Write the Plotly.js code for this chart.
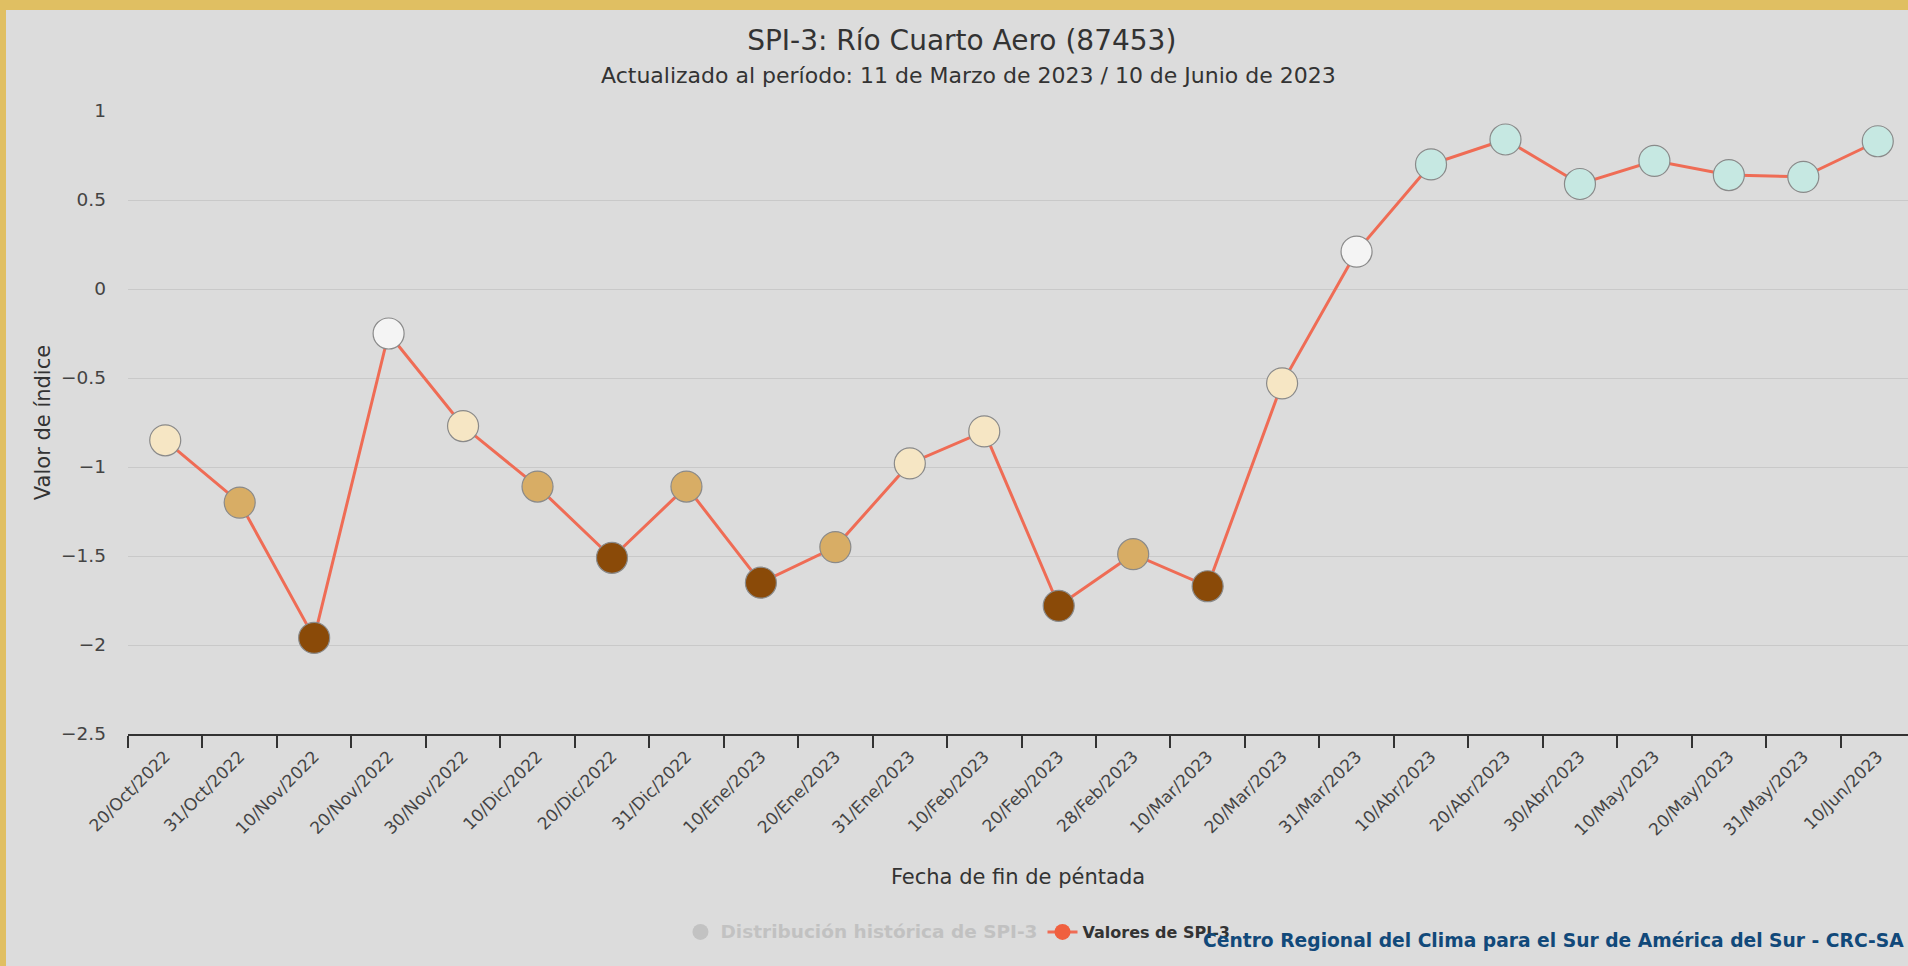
<!DOCTYPE html>
<html>
<head>
<meta charset="utf-8">
<script src="https://cdn.plot.ly/plotly-3.0.1.min.js"></script>
<style>
  html, body { margin: 0; padding: 0; width: 1908px; height: 966px; overflow: hidden; background: #e0bf62; }
  #chart { position: absolute; left: 6px; top: 10px; width: 1902px; height: 956px; }
</style>
</head>
<body>
<div id="chart"></div>
<script>
// ---- data ----
const fechas = [
  "20/Oct/2022", "31/Oct/2022", "10/Nov/2022", "20/Nov/2022", "30/Nov/2022",
  "10/Dic/2022", "20/Dic/2022", "31/Dic/2022", "10/Ene/2023", "20/Ene/2023",
  "31/Ene/2023", "10/Feb/2023", "20/Feb/2023", "28/Feb/2023", "10/Mar/2023",
  "20/Mar/2023", "31/Mar/2023", "10/Abr/2023", "20/Abr/2023", "30/Abr/2023",
  "10/May/2023", "20/May/2023", "31/May/2023", "10/Jun/2023"
];
const spi3 = [
  -0.85, -1.20, -1.96, -0.25, -0.77,
  -1.11, -1.51, -1.11, -1.65, -1.45,
  -0.98, -0.80, -1.78, -1.49, -1.67,
  -0.53, 0.21, 0.70, 0.84, 0.59,
  0.72, 0.64, 0.63, 0.83
];
const yTicks = [1, 0.5, 0, -0.5, -1, -1.5, -2, -2.5];

const tituloTexto = "SPI-3: Río Cuarto Aero (87453)";
const subtituloTexto = "Actualizado al período: 11 de Marzo de 2023 / 10 de Junio de 2023";
const serieHistorica = "Distribución histórica de SPI-3";
const serieValores = "Valores de SPI-3";
const creditoTexto = "Centro Regional del Clima para el Sur de América del Sur - CRC-SA";

// SPI class colours
function colorSPI(v) {
  if (v >= 0.5) return "#c6e8e2";
  if (v >= -0.5) return "#f4f4f4";
  if (v >= -1.0) return "#f6e6c4";
  if (v >= -1.5) return "#d8ad65";
  return "#8a4a08";
}

const FONT = "DejaVu Sans, Verdana, sans-serif";

const traces = [
  {
    type: "scatter",
    mode: "markers",
    name: '<b><span style="color:#a8a8a8;font-size:18.5px">' + serieHistorica + '</span></b>',
    x: [fechas[0]],
    y: [null],
    visible: "legendonly",
    marker: { color: "#a8a8a8", size: 17, symbol: "circle" },
    hoverinfo: "skip"
  },
  {
    type: "scatter",
    mode: "lines+markers",
    name: "<b>" + serieValores + "</b>",
    x: fechas,
    y: spi3,
    line: { color: "#ef6c55", width: 3 },
    marker: { color: "#f0603f", size: 16, symbol: "circle" },
    hoverinfo: "skip"
  },
  {
    type: "scatter",
    mode: "markers",
    name: serieValores,
    showlegend: false,
    x: fechas,
    y: spi3,
    marker: {
      color: spi3.map(colorSPI),
      size: 31,
      line: { color: "#8a8a8a", width: 1.2 }
    },
    hoverinfo: "x+y"
  }
];

const layout = {
  width: 1902,
  height: 956,
  margin: { l: 122, r: 0, t: 101, b: 232, pad: 0 },
  paper_bgcolor: "#dcdcdc",
  plot_bgcolor: "#dcdcdc",
  font: { family: FONT, color: "#333333" },
  showlegend: true,
  title: {
    text: tituloTexto,
    font: { family: FONT, size: 28, color: "#333333" },
    x: 0.5025, xref: "container", xanchor: "center",
    y: 1 - 30 / 956, yref: "container", yanchor: "middle"
  },
  xaxis: {
    type: "category",
    range: [-0.5, 23.406],
    tickson: "boundaries",
    ticks: "outside",
    ticklen: 12,
    tickwidth: 1.5,
    tickcolor: "#333333",
    showline: true,
    linecolor: "#333333",
    linewidth: 2,
    showgrid: false,
    zeroline: false,
    tickangle: -45,
    ticklabelstandoff: 4,
    tickfont: { family: FONT, size: 17, color: "#444444" },
    title: {
      text: "Fecha de fin de péntada",
      font: { family: FONT, size: 21, color: "#333333" },
      standoff: 31
    },
    fixedrange: true
  },
  yaxis: {
    range: [-2.5, 1],
    tickvals: yTicks,
    ticks: "",
    showline: false,
    showgrid: true,
    gridcolor: "#c9c9c9",
    gridwidth: 1,
    zeroline: false,
    ticklabelstandoff: 21,
    tickfont: { family: FONT, size: 18.5, color: "#444444" },
    title: {
      text: "Valor de índice",
      font: { family: FONT, size: 21, color: "#333333" },
      standoff: 4
    },
    fixedrange: true
  },
  legend: {
    orientation: "h",
    xref: "container", yref: "container",
    x: 0.5005, xanchor: "center",
    y: 1 - 922 / 956, yanchor: "middle",
    bgcolor: "rgba(0,0,0,0)",
    itemwidth: 30,
    font: { family: FONT, size: 16, color: "#333333" },
    itemclick: false,
    itemdoubleclick: false
  },
  annotations: [
    {
      text: subtituloTexto,
      xref: "paper", yref: "paper",
      x: 0.472, xanchor: "center",
      y: (723.7 - 65.4) / 623, yanchor: "middle",
      showarrow: false,
      font: { family: FONT, size: 22, color: "#333333" }
    },
    {
      text: "<b>" + creditoTexto + "</b>",
      xref: "paper", yref: "paper",
      x: 1, xanchor: "right", xshift: -2,
      y: (723.7 - 930) / 623, yanchor: "middle",
      showarrow: false,
      font: { family: FONT, size: 18.7, color: "#11497a" }
    }
  ]
};

Plotly.newPlot("chart", traces, layout, { displayModeBar: false });
</script>
</body>
</html>
